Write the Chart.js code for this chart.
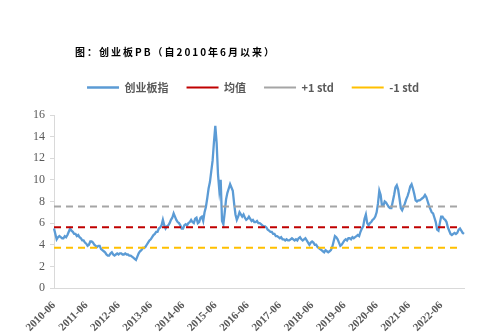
<!DOCTYPE html>
<html>
<head>
<meta charset="utf-8">
<script src="https://cdn.jsdelivr.net/npm/chart.js@4.4.1/dist/chart.umd.min.js"></script>
<style>
  body { margin: 0; background: #fff; }
  #wrap { position: relative; width: 488px; height: 332px; }
  #title {
    position: absolute; left: 75px; top: 45px;
    font-family: "Noto Sans CJK SC", sans-serif; font-weight: bold;
    font-size: 10px; line-height: 14px; letter-spacing: 2px; color: #000;
  }
</style>
</head>
<body>
<div id="wrap">
  <div id="title">图：创业板PB（自2010年6月以来）</div>
  <canvas id="grafPB"></canvas>
</div>
<script>
// PB创业板指，半月取值（每月1日、16日）
const pb2010 = [5.5, 5.0, 4.5, 4.7, 4.8, 4.7, 4.6, 4.6, 4.8, 4.7, 4.9, 5.2, 5.5, 5.3];
const pb2011 = [5.2, 5.0, 5.0, 4.8, 4.9, 4.7, 4.6, 4.4, 4.4, 4.2, 4.1, 3.9, 4.0, 4.3, 4.3, 4.2, 4.0, 3.9, 3.8, 3.9, 3.9, 3.6, 3.5, 3.4];
const pb2012 = [3.3, 3.1, 3.0, 3.0, 3.2, 3.3, 3.1, 3.0, 3.1, 3.2, 3.1, 3.2, 3.2, 3.1, 3.1, 3.2, 3.1, 3.1, 3.0, 3.0, 2.9, 2.8, 2.7, 2.6];
const pb2013 = [2.9, 3.2, 3.4, 3.5, 3.7, 3.7, 3.8, 4.0, 4.2, 4.4, 4.5, 4.7, 4.9, 5.0, 5.2, 5.2, 5.5, 5.6, 5.8, 6.3, 5.8, 5.5, 5.7, 5.8];
const pb2014 = [6.0, 6.3, 6.5, 6.9, 6.6, 6.3, 6.1, 6.0, 5.8, 5.5, 5.5, 5.8, 5.9, 5.8, 6.0, 6.1, 6.3, 6.1, 6.0, 6.4, 6.5, 6.0, 6.1, 6.5];
const pb2015 = [6.6, 6.2, 7.0, 7.5, 8.3, 9.2, 9.8, 10.8, 11.8, 13.5, 15.0, 13.4, 10.5, 9.0, 10.0, 6.2, 5.9, 7.0, 8.2, 8.8, 9.2, 9.6, 9.3, 9.0];
const pb2016 = [7.8, 6.8, 6.3, 6.6, 7.0, 6.8, 6.6, 6.8, 6.5, 6.3, 6.4, 6.6, 6.4, 6.2, 6.3, 6.1, 6.1, 6.2, 6.0, 6.0, 5.9, 5.8, 5.7, 5.7];
const pb2017 = [5.6, 5.4, 5.3, 5.2, 5.2, 5.0, 5.0, 4.8, 4.8, 4.7, 4.6, 4.7, 4.5, 4.5, 4.4, 4.5, 4.4, 4.4, 4.5, 4.6, 4.5, 4.4, 4.5, 4.4];
const pb2018 = [4.6, 4.7, 4.5, 4.4, 4.5, 4.6, 4.4, 4.2, 4.0, 4.2, 4.3, 4.2, 4.0, 4.0, 3.8, 3.7, 3.6, 3.5, 3.4, 3.3, 3.5, 3.4, 3.3, 3.4];
const pb2019 = [3.5, 3.8, 4.3, 4.8, 4.7, 4.5, 4.2, 3.9, 4.0, 4.2, 4.4, 4.5, 4.4, 4.6, 4.6, 4.5, 4.7, 4.6, 4.7, 4.8, 4.9, 4.8, 5.2, 5.5];
const pb2020 = [5.7, 6.4, 6.8, 6.0, 5.8, 6.0, 6.1, 6.3, 6.4, 6.6, 7.0, 7.8, 9.0, 8.6, 7.6, 7.6, 8.0, 7.9, 7.7, 7.5, 7.4, 7.4, 8.0, 8.6];
const pb2021 = [9.3, 9.5, 9.1, 8.3, 7.4, 7.2, 7.5, 7.8, 8.2, 8.5, 8.9, 9.4, 9.6, 9.2, 8.7, 8.1, 8.0, 8.1, 8.1, 8.2, 8.3, 8.4, 8.6, 8.4];
const pb2022 = [8.0, 7.6, 7.3, 7.0, 6.9, 6.5, 6.1, 5.4, 5.3, 6.0, 6.6, 6.6, 6.4, 6.3, 6.1, 5.6, 5.3, 5.0, 4.9, 5.0, 5.1, 5.0, 5.1, 5.4];
const pb2023 = [5.5, 5.3, 5.1, 5.0];

const pbMean = 5.63;
const pbStd = 1.90;
const konecPasma = "2022-12-16"; // poslední datum čar průměru a std

const pbRoky = [pb2010, pb2011, pb2012, pb2013, pb2014, pb2015, pb2016,
                pb2017, pb2018, pb2019, pb2020, pb2021, pb2022, pb2023];

const datumy = [];
const hodnoty = [];
pbRoky.forEach(function(rada, k) {
    const rok = 2010 + k;
    const prvniMesic = rok === 2010 ? 6 : 1;
    rada.forEach(function(v, j) {
        const mesic = prvniMesic + Math.floor(j / 2);
        datumy.push(rok + "-" + String(mesic).padStart(2, "0") + "-" + (j % 2 ? "16" : "01"));
        hodnoty.push(v);
    });
});

const konecIdx = datumy.indexOf(konecPasma);
function cara(hodnota) {
    return datumy.map((d, i) => i <= konecIdx ? hodnota : null);
}

const seda = "#595959";

// mezera pod legendou
const legendaOdsazeni = {
    id: "legendaOdsazeni",
    beforeInit(chart) {
        const puvodniFit = chart.legend.fit;
        chart.legend.fit = function() {
            puvodniFit.bind(chart.legend)();
            this.height += 12;
        };
    }
};

new Chart(document.getElementById("grafPB"), {
    type: "line",
    data: {
        labels: datumy,
        datasets: [
            { label: "创业板指", data: hodnoty, borderColor: "#5B9BD5", borderWidth: 2.3, pointRadius: 0, order: 1 },
            { label: "均值", data: cara(pbMean), borderColor: "#C00000", borderWidth: 2, borderDash: [7, 5], pointRadius: 0, order: 0 },
            { label: "+1 std", data: cara(pbMean + pbStd), borderColor: "#A5A5A5", borderWidth: 2, borderDash: [7, 5], pointRadius: 0, order: 0 },
            { label: "-1 std", data: cara(pbMean - pbStd), borderColor: "#FFC000", borderWidth: 2, borderDash: [7, 5], pointRadius: 0, order: 0 }
        ]
    },
    plugins: [legendaOdsazeni],
    options: {
        responsive: true,
        maintainAspectRatio: false,
        animation: false,
        layout: { padding: { left: 18, right: 0, top: 64, bottom: 0 } },
        plugins: {
            title: { display: false },
            tooltip: { enabled: false },
            legend: {
                position: "top",
                labels: {
                    usePointStyle: true,
                    pointStyle: "line",
                    pointStyleWidth: 32,
                    boxWidth: 29,
                    boxHeight: 2,
                    padding: 18,
                    color: seda,
                    font: { family: "'Noto Sans CJK SC', sans-serif", size: 11, weight: "bold" },
                    sort: (a, b) => a.datasetIndex - b.datasetIndex
                }
            }
        },
        scales: {
            x: {
                afterFit: s => { s.height = 44; },
                grid: { display: false },
                border: { display: true, color: "#D9D9D9" },
                ticks: {
                    autoSkip: false,
                    minRotation: 45,
                    maxRotation: 45,
                    padding: 3,
                    color: seda,
                    font: { family: "'Liberation Serif', serif", size: 11, weight: "bold" },
                    callback: function(value) {
                        const d = this.getLabelForValue(value);
                        return d.slice(5) === "06-01" ? d.slice(0, 7) : null;
                    }
                }
            },
            y: {
                min: 0,
                max: 16,
                afterFit: s => { s.width = 36; },
                grid: { drawOnChartArea: false, drawTicks: true, tickLength: 4, color: "#D9D9D9" },
                border: { display: true, color: "#D9D9D9" },
                ticks: {
                    stepSize: 2,
                    padding: 5,
                    color: seda,
                    font: { family: "'Liberation Serif', serif", size: 12 }
                }
            },
            y2: {
                position: "right",
                afterFit: s => { s.width = 24; },
                grid: { display: false },
                border: { display: false },
                ticks: { display: false }
            }
        }
    }
});
</script>
</body>
</html>
